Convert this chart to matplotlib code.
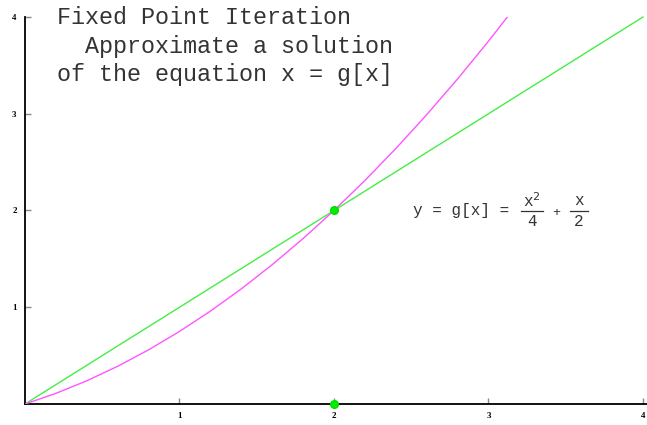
import matplotlib
matplotlib.use("Agg")
import matplotlib.pyplot as plt

# g(x) = x^2/4 + x/2 sampled values
curve_x = [0.0, 0.2, 0.4, 0.6, 0.8, 1.0, 1.2, 1.4, 1.6, 1.8, 2.0, 2.2, 2.4, 2.6, 2.8, 3.0, 3.2]
curve_y = [0.0, 0.11, 0.24, 0.39, 0.56, 0.75, 0.96, 1.19, 1.44, 1.71, 2.0, 2.31, 2.64, 2.99, 3.36, 3.75, 4.16]
# reference line y = x
line_x = [0.0, 4.0]
line_y = [0.0, 4.0]
# fixed point and its projection on the x axis
pts_x = [2.0, 2.0]
pts_y = [2.0, 0.0]
xticks = [1, 2, 3, 4]
yticks = [1, 2, 3, 4]

W, H = 647, 425
fig = plt.figure(figsize=(W / 100, H / 100), dpi=100)
ax = fig.add_axes([25 / W, 1 - 404 / H, 618 / W, 387 / H])
ax.set_xlim(0, 4)
ax.set_ylim(0, 4)

ax.plot(line_x, line_y, color="#44ee44", lw=1.0, zorder=2, clip_on=False)
ax.plot(curve_x, curve_y, color="#ff55ff", lw=1.0, zorder=3)
ax.plot(pts_x, pts_y, "o", color="#00ee00", ms=5.5, mec="#00dd00", zorder=5, clip_on=False)

for s in ["top", "right"]:
    ax.spines[s].set_visible(False)
for s in ["left", "bottom"]:
    ax.spines[s].set_color("black")
    ax.spines[s].set_linewidth(1.3)
# extend the x axis line to the right edge of the figure
ax.plot([4.0, 4.03], [0, 0], color="black", lw=1.3, clip_on=False, solid_capstyle="butt")

ax.set_xticks(xticks)
ax.set_yticks(yticks)
ax.set_xticklabels([str(t) for t in xticks])
ax.set_yticklabels([str(t) for t in yticks])
ax.tick_params(direction="in", length=4, width=1, color="#888888",
               labelsize=6.5, pad=6)
for lab in ax.get_xticklabels() + ax.get_yticklabels():
    lab.set_fontfamily("Liberation Serif")
    lab.set_fontweight("bold")

mono = "Liberation Mono"
title_lines = ["Fixed Point Iteration", "  Approximate a solution", "of the equation x = g[x]"]
for i, t in enumerate(title_lines):
    fig.text(57 / W, 1 - (18 + 28 * i) / H, t, family=mono, fontsize=16.8,
             color="#333333", va="center", ha="left")

# formula label y = g[x] = x^2/4 + x/2
def px(x, y):
    return ((x - 25) / 618 * 4, (404 - y) / 387 * 4)

fs = 11.5
ink = "#333333"
ax.text(*px(413, 211), "y = g[x] =", family=mono, fontsize=fs, color=ink,
        va="center", ha="left")
ax.text(*px(532, 201), r"x$^{2}$", family=mono, fontsize=fs, color=ink,
        va="center", ha="center")
ax.plot(*zip(px(521, 211), px(543, 211)), color=ink, lw=0.9)
ax.text(*px(532, 222), "4", family=mono, fontsize=fs, color=ink,
        va="center", ha="center")
ax.text(*px(556, 213), "+", family=mono, fontsize=fs - 2, color=ink,
        va="center", ha="center")
ax.text(*px(579, 201), "x", family=mono, fontsize=fs, color=ink,
        va="center", ha="center")
ax.plot(*zip(px(570, 211), px(588, 211)), color=ink, lw=0.9)
ax.text(*px(579, 222), "2", family=mono, fontsize=fs, color=ink,
        va="center", ha="center")

fig.savefig("out.png", dpi=100)
